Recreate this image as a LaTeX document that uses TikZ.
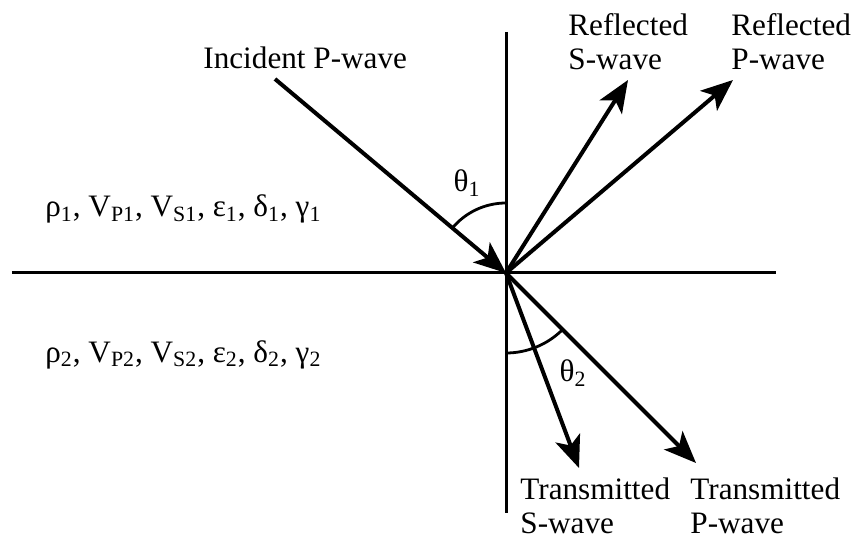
\documentclass[tikz,border=0pt]{standalone}
\usepackage{fontspec}
\setmainfont{Liberation Serif}
\usetikzlibrary{arrows.meta}
\tikzset{
  wave/.style={line width=2pt, -{Stealth[length=16pt, width=13pt, inset=4pt]}},
  axis/.style={line width=1.5pt},
  anglearc/.style={line width=1.4pt},
  lbl/.style={inner sep=0pt, align=left, anchor=base west}
}
\begin{document}
\begin{tikzpicture}[x=0.5pt, y=0.5pt, font=\fontsize{15.6}{17}\selectfont]
  \useasboundingbox (-506,-267) rectangle (349,273);
  % interface and normal
  \coordinate (O) at (0,0);
  \coordinate (left) at (-494,0);
  \coordinate (right) at (270,0);
  \coordinate (top) at (0,241);
  \coordinate (bottom) at (0,-240);
  \draw[axis] (left) -- (right);
  \draw[axis] (top) -- (bottom);
  % end points of the rays
  \coordinate (inc) at (-231,194);
  \coordinate (rs) at (122,193);
  \coordinate (rp) at (227,193);
  \coordinate (ts) at (73,-195);
  \coordinate (tp) at (190,-190);
  % incident, reflected and transmitted waves
  \draw[wave] (inc) -- (O);
  \draw[wave] (O) -- (rs);
  \draw[wave] (O) -- (rp);
  \draw[wave] (O) -- (ts);
  \draw[wave] (O) -- (tp);
  % angles
  \draw[anglearc] (0,70) arc[start angle=90, end angle=140, radius=70];
  \node (th1) at (-39,90) {θ\textsubscript{1}};
  \draw[anglearc] (0,-80) arc[start angle=270, end angle=315, radius=80];
  \node (th2) at (67,-100) {θ\textsubscript{2}};
  % labels (base = last line)
  \node[lbl] (linc) at (-303,204) {Incident P-wave};
  \node[lbl] (lrs) at (62,203) {Reflected\\S-wave};
  \node[lbl] (lrp) at (225,203) {Reflected\\P-wave};
  \node[lbl] (lts) at (14,-260) {Transmitted\\S-wave};
  \node[lbl] (ltp) at (184,-260) {Transmitted\\P-wave};
  % media
  \node[lbl] (m1) at (-461,56) {ρ\textsubscript{1}, V\textsubscript{P1}, V\textsubscript{S1}, ε\textsubscript{1}, δ\textsubscript{1}, γ\textsubscript{1}};
  \node[lbl] (m2) at (-461,-89) {ρ\textsubscript{2}, V\textsubscript{P2}, V\textsubscript{S2}, ε\textsubscript{2}, δ\textsubscript{2}, γ\textsubscript{2}};
\end{tikzpicture}
\end{document}
